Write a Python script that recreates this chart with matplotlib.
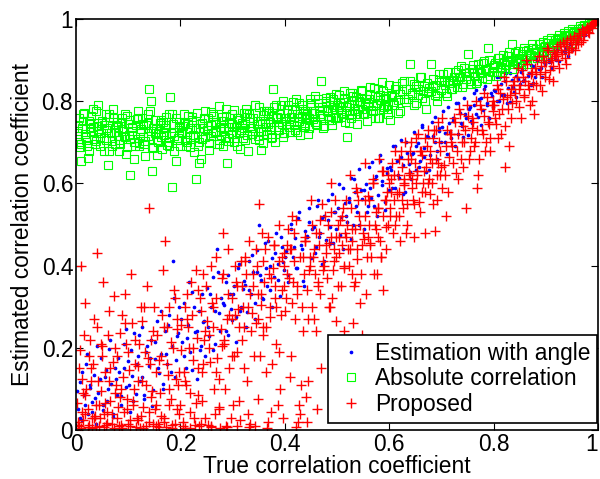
import matplotlib
matplotlib.use("Agg")
import matplotlib.pyplot as plt

# ---------------- data ----------------
# "Estimation with angle" (blue dots)
angle_x_a = [
 0.004,0.008,0.011,0.015,0.019,0.023,0.027,0.031,0.035,0.039,
 0.043,0.047,0.051,0.055,0.059,0.063,0.067,0.071,0.075,0.079,
 0.083,0.087,0.091,0.095,0.099,0.103,0.107,0.111,0.115,0.119,
 0.123,0.127,0.131,0.135,0.139,0.143,0.147,0.151,0.155,0.159,
 0.163,0.167,0.171,0.175,0.179,0.183,0.186,0.190,0.194,0.198,
 0.203,0.207,0.211,0.215,0.219,0.223,0.227,0.231,0.235,0.239,
 0.243,0.247,0.251,0.255,0.259,0.263,0.267,0.270,0.274,0.278,
 0.283,0.287,0.291,0.295,0.299,0.303,0.307,0.311,0.315,0.319,
 0.323,0.327,0.331,0.335,0.339,0.343,0.347,0.350,0.354,0.358,
 0.363,0.367,0.371,0.375,0.379,0.383,0.387,0.391,0.395,0.399,
 0.403,0.407,0.411,0.415,0.419,0.423,0.427,0.431,0.435,0.439,
 0.443,0.447,0.451,0.455,0.459,0.463,0.467,0.471,0.475,0.479,
 0.483,0.487,0.491,0.495,0.499,0.503,0.507,0.511,0.515,0.519,
 0.523,0.527,0.531,0.535,0.539,0.543,0.547,0.551,0.555,0.559,
 0.563,0.567,0.571,0.575,0.579,0.583,0.587,0.591,0.595,0.599,
 0.603,0.607,0.611,0.615,0.619,0.623,0.627,0.631,0.635,0.639,
 0.643,0.647,0.651,0.655,0.659,0.663,0.667,0.671,0.675,0.679,
 0.683,0.687,0.691,0.695,0.699,0.703,0.707,0.711,0.715,0.719,
 0.723,0.727,0.731,0.735,0.739,0.743,0.747,0.751,0.755,0.759,
 0.763,0.767,0.771,0.775,0.779,0.783,0.787,0.791,0.795,0.799,
 0.803,0.807,0.811,0.815,0.819,0.823,0.827,0.831,0.835,0.839,
 0.843,0.847,0.851,0.855,0.859,0.863,0.867,0.871,0.875,0.879,
 0.883,0.887,0.891,0.895,0.899,0.903,0.907,0.911,0.915,0.919,
 0.923,0.927,0.931,0.935,0.939,0.943,0.947,0.951,0.955,0.959,
 0.963,0.967,0.971,0.975,0.979,0.983,0.987,0.991,0.995,0.999,
]
angle_y_a = [
 0.052,0.118,0.025,0.085,0.160,0.040,0.102,0.068,0.135,0.015,
 0.090,0.175,0.048,0.128,0.070,0.198,0.112,0.032,0.150,0.085,
 0.140,0.062,0.210,0.105,0.168,0.045,0.132,0.235,0.088,0.180,
 0.120,0.250,0.075,0.190,0.155,0.220,0.098,0.172,0.265,0.138,
 0.185,0.112,0.240,0.160,0.280,0.205,0.410,0.130,0.228,0.300,
 0.215,0.310,0.150,0.255,0.190,0.335,0.238,0.125,0.290,0.205,
 0.262,0.180,0.345,0.228,0.300,0.372,0.210,0.440,0.285,0.320,
 0.305,0.240,0.378,0.332,0.268,0.350,0.215,0.395,0.290,0.342,
 0.352,0.288,0.410,0.330,0.385,0.270,0.438,0.500,0.365,0.318,
 0.395,0.460,0.340,0.418,0.372,0.480,0.405,0.325,0.445,0.390,
 0.435,0.378,0.502,0.420,0.468,0.395,0.530,0.450,0.362,0.485,
 0.472,0.540,0.418,0.495,0.445,0.560,0.480,0.405,0.520,0.462,
 0.512,0.455,0.575,0.530,0.488,0.598,0.518,0.440,0.552,0.505,
 0.555,0.612,0.498,0.578,0.530,0.635,0.562,0.490,0.598,0.545,
 0.590,0.652,0.545,0.618,0.572,0.668,0.605,0.535,0.638,0.585,
 0.632,0.690,0.588,0.655,0.612,0.705,0.645,0.580,0.675,0.628,
 0.672,0.725,0.632,0.698,0.655,0.742,0.685,0.628,0.712,0.668,
 0.715,0.762,0.678,0.735,0.700,0.775,0.722,0.672,0.748,0.710,
 0.752,0.795,0.720,0.772,0.740,0.808,0.760,0.718,0.785,0.748,
 0.790,0.828,0.762,0.808,0.778,0.838,0.795,0.758,0.820,0.785,
 0.826,0.858,0.800,0.842,0.815,0.868,0.832,0.798,0.852,0.822,
 0.862,0.890,0.842,0.876,0.852,0.898,0.868,0.840,0.885,0.860,
 0.898,0.920,0.882,0.910,0.890,0.928,0.902,0.880,0.918,0.900,
 0.935,0.952,0.922,0.945,0.930,0.958,0.940,0.925,0.955,0.942,
 0.968,0.978,0.962,0.980,0.972,0.986,0.979,0.988,0.994,0.998,
]
angle_x_b = [
 0.002,0.007,0.012,0.017,0.021,0.026,0.031,0.036,0.041,0.046,
 0.052,0.057,0.062,0.066,0.071,0.076,0.081,0.086,0.091,0.096,
 0.101,0.106,0.110,0.116,0.121,0.126,0.131,0.136,0.141,0.146,
 0.152,0.157,0.162,0.166,0.172,0.176,0.182,0.187,0.192,0.196,
 0.201,0.206,0.212,0.217,0.222,0.226,0.232,0.237,0.242,0.246,
 0.252,0.257,0.262,0.266,0.272,0.276,0.282,0.287,0.292,0.296,
 0.301,0.306,0.312,0.317,0.322,0.326,0.332,0.337,0.342,0.346,
 0.352,0.357,0.362,0.366,0.372,0.376,0.382,0.387,0.392,0.396,
 0.401,0.406,0.412,0.417,0.422,0.426,0.432,0.437,0.442,0.446,
 0.452,0.457,0.462,0.466,0.472,0.476,0.482,0.487,0.492,0.496,
 0.501,0.506,0.512,0.517,0.522,0.526,0.532,0.537,0.542,0.546,
 0.552,0.557,0.562,0.566,0.572,0.576,0.582,0.587,0.592,0.596,
 0.601,0.606,0.612,0.617,0.622,0.626,0.632,0.637,0.642,0.646,
 0.652,0.657,0.662,0.666,0.672,0.676,0.682,0.687,0.692,0.696,
 0.701,0.706,0.712,0.717,0.722,0.726,0.732,0.737,0.742,0.746,
 0.752,0.757,0.762,0.766,0.772,0.776,0.782,0.787,0.792,0.796,
 0.801,0.806,0.812,0.817,0.822,0.826,0.832,0.837,0.842,0.846,
 0.852,0.857,0.862,0.866,0.872,0.876,0.882,0.887,0.892,0.896,
 0.901,0.906,0.912,0.917,0.922,0.926,0.932,0.937,0.942,0.946,
 0.952,0.957,0.962,0.966,0.972,0.976,0.982,0.987,0.992,0.996,
]
angle_y_b = [
 0.095,0.030,0.140,0.062,0.185,0.110,0.045,0.078,0.205,0.125,
 0.060,0.145,0.100,0.220,0.038,0.125,0.175,0.082,0.150,0.245,
 0.110,0.195,0.070,0.160,0.230,0.128,0.085,0.205,0.175,0.058,
 0.215,0.150,0.290,0.100,0.185,0.255,0.140,0.320,0.170,0.235,
 0.270,0.180,0.225,0.360,0.145,0.300,0.240,0.195,0.330,0.265,
 0.250,0.330,0.195,0.290,0.385,0.240,0.310,0.360,0.230,0.295,
 0.330,0.275,0.405,0.300,0.362,0.250,0.340,0.425,0.310,0.385,
 0.378,0.320,0.455,0.350,0.400,0.300,0.430,0.365,0.470,0.408,
 0.420,0.360,0.490,0.445,0.395,0.515,0.440,0.350,0.470,0.505,
 0.490,0.430,0.545,0.470,0.515,0.410,0.560,0.495,0.455,0.530,
 0.540,0.475,0.590,0.520,0.565,0.465,0.610,0.545,0.500,0.585,
 0.585,0.530,0.640,0.565,0.610,0.520,0.655,0.595,0.555,0.625,
 0.640,0.590,0.690,0.620,0.665,0.575,0.700,0.648,0.610,0.675,
 0.690,0.640,0.738,0.665,0.715,0.632,0.750,0.700,0.660,0.728,
 0.738,0.700,0.785,0.725,0.760,0.690,0.795,0.748,0.712,0.770,
 0.780,0.752,0.820,0.770,0.805,0.742,0.830,0.790,0.760,0.812,
 0.828,0.800,0.860,0.815,0.848,0.795,0.868,0.835,0.810,0.855,
 0.870,0.848,0.898,0.862,0.888,0.845,0.905,0.878,0.858,0.895,
 0.912,0.895,0.932,0.905,0.925,0.898,0.945,0.920,0.910,0.938,
 0.955,0.945,0.968,0.958,0.975,0.962,0.982,0.978,0.988,0.995,
]

# "Absolute correlation" (green squares)
abs_x_a = [
 0.003,0.006,0.010,0.013,0.017,0.021,0.025,0.029,0.034,0.038,
 0.042,0.045,0.049,0.053,0.057,0.061,0.064,0.068,0.071,0.076,
 0.081,0.084,0.088,0.092,0.095,0.099,0.103,0.108,0.112,0.117,
 0.121,0.125,0.129,0.133,0.137,0.140,0.144,0.146,0.151,0.156,
 0.161,0.165,0.169,0.173,0.177,0.180,0.183,0.187,0.192,0.197,
 0.202,0.206,0.210,0.214,0.218,0.222,0.226,0.230,0.235,0.238,
 0.242,0.246,0.250,0.254,0.258,0.262,0.266,0.270,0.274,0.278,
 0.282,0.286,0.290,0.294,0.298,0.302,0.306,0.310,0.314,0.318,
 0.322,0.326,0.330,0.334,0.338,0.342,0.346,0.350,0.354,0.358,
 0.362,0.366,0.370,0.374,0.378,0.381,0.385,0.389,0.393,0.397,
 0.402,0.406,0.410,0.414,0.418,0.422,0.426,0.430,0.434,0.438,
 0.442,0.446,0.450,0.454,0.458,0.462,0.466,0.470,0.474,0.478,
 0.482,0.486,0.490,0.494,0.498,0.502,0.506,0.510,0.514,0.519,
 0.522,0.526,0.530,0.534,0.538,0.542,0.546,0.550,0.554,0.558,
 0.562,0.566,0.570,0.574,0.578,0.582,0.586,0.590,0.594,0.598,
 0.601,0.605,0.609,0.613,0.617,0.621,0.625,0.629,0.633,0.640,
 0.643,0.647,0.651,0.655,0.659,0.663,0.667,0.671,0.675,0.680,
 0.683,0.687,0.691,0.695,0.699,0.703,0.707,0.711,0.715,0.719,
 0.722,0.726,0.730,0.734,0.738,0.742,0.746,0.750,0.754,0.758,
 0.762,0.766,0.770,0.774,0.778,0.782,0.786,0.790,0.794,0.798,
 0.802,0.806,0.810,0.814,0.818,0.822,0.826,0.830,0.835,0.838,
 0.842,0.846,0.850,0.854,0.858,0.862,0.866,0.870,0.874,0.878,
 0.882,0.886,0.890,0.894,0.898,0.902,0.906,0.910,0.914,0.918,
 0.922,0.926,0.930,0.934,0.938,0.942,0.946,0.950,0.954,0.958,
 0.962,0.966,0.970,0.974,0.978,0.982,0.986,0.990,0.994,0.998,
]
abs_y_a = [
 0.742,0.700,0.655,0.768,0.721,0.690,0.752,0.735,0.708,0.775,
 0.790,0.712,0.746,0.678,0.730,0.645,0.762,0.703,0.781,0.725,
 0.738,0.695,0.760,0.716,0.672,0.745,0.620,0.728,0.700,0.756,
 0.690,0.733,0.712,0.667,0.748,0.830,0.800,0.630,0.722,0.705,
 0.741,0.683,0.726,0.762,0.700,0.810,0.592,0.715,0.655,0.734,
 0.725,0.768,0.690,0.745,0.712,0.755,0.676,0.610,0.650,0.736,
 0.708,0.760,0.731,0.682,0.774,0.722,0.745,0.695,0.788,0.717,
 0.752,0.714,0.650,0.738,0.770,0.700,0.726,0.759,0.684,0.743,
 0.735,0.780,0.680,0.758,0.720,0.792,0.744,0.705,0.681,0.766,
 0.748,0.720,0.775,0.738,0.830,0.700,0.762,0.731,0.790,0.712,
 0.752,0.790,0.725,0.770,0.741,0.806,0.760,0.718,0.782,0.748,
 0.770,0.734,0.795,0.757,0.812,0.742,0.778,0.850,0.760,0.800,
 0.765,0.800,0.742,0.785,0.817,0.758,0.795,0.772,0.826,0.712,
 0.790,0.760,0.812,0.775,0.745,0.800,0.828,0.768,0.793,0.752,
 0.805,0.778,0.832,0.790,0.760,0.815,0.846,0.785,0.808,0.770,
 0.755,0.812,0.790,0.838,0.802,0.775,0.825,0.850,0.797,0.890,
 0.815,0.842,0.795,0.830,0.858,0.808,0.836,0.780,0.822,0.890,
 0.838,0.815,0.800,0.852,0.827,0.866,0.840,0.812,0.848,0.830,
 0.852,0.872,0.835,0.860,0.885,0.842,0.868,0.915,0.850,0.878,
 0.868,0.845,0.890,0.872,0.856,0.898,0.876,0.930,0.862,0.884,
 0.892,0.870,0.905,0.884,0.912,0.878,0.898,0.920,0.940,0.890,
 0.900,0.922,0.895,0.915,0.930,0.905,0.925,0.912,0.938,0.918,
 0.928,0.940,0.922,0.945,0.935,0.950,0.932,0.955,0.942,0.948,
 0.952,0.962,0.948,0.966,0.958,0.970,0.962,0.975,0.968,0.972,
 0.975,0.982,0.978,0.986,0.984,0.990,0.989,0.994,0.996,0.999,
]
abs_x_b = [
 0.001,0.005,0.008,0.012,0.015,0.019,0.022,0.026,0.029,0.033,0.036,0.040,
 0.043,0.046,0.050,0.053,0.057,0.060,0.064,0.067,0.070,0.074,0.077,0.080,
 0.083,0.087,0.090,0.094,0.097,0.101,0.104,0.108,0.111,0.115,0.118,0.120,
 0.123,0.127,0.130,0.134,0.137,0.141,0.145,0.148,0.152,0.155,0.158,0.160,
 0.163,0.167,0.170,0.174,0.178,0.181,0.185,0.188,0.191,0.195,0.198,0.200,
 0.204,0.208,0.212,0.215,0.219,0.222,0.225,0.229,0.232,0.236,0.239,0.241,
 0.244,0.248,0.252,0.255,0.259,0.263,0.266,0.269,0.273,0.276,0.279,0.281,
 0.284,0.288,0.292,0.296,0.299,0.303,0.306,0.309,0.313,0.316,0.319,0.321,
 0.324,0.328,0.332,0.336,0.339,0.343,0.347,0.351,0.355,0.357,0.359,0.361,
 0.364,0.368,0.372,0.376,0.379,0.383,0.387,0.390,0.394,0.396,0.398,0.400,
 0.404,0.408,0.412,0.416,0.420,0.424,0.428,0.432,0.436,0.439,0.441,0.444,
 0.447,0.451,0.455,0.459,0.463,0.467,0.471,0.475,0.479,0.481,0.484,0.487,
 0.490,0.493,0.497,0.500,0.504,0.508,0.512,0.516,0.520,0.524,0.528,0.532,
 0.536,0.540,0.544,0.548,0.552,0.556,0.560,0.564,0.568,0.572,0.576,0.580,
 0.584,0.588,0.592,0.596,0.600,0.604,0.608,0.612,0.616,0.620,0.624,0.628,
 0.632,0.636,0.640,0.644,0.648,0.652,0.656,0.660,0.664,0.668,0.672,0.676,
 0.680,0.684,0.688,0.692,0.696,0.700,0.704,0.708,0.712,0.716,0.720,0.724,
 0.728,0.732,0.736,0.740,0.744,0.748,0.752,0.756,0.760,0.764,0.768,0.772,
 0.776,0.780,0.784,0.788,0.792,0.796,0.800,0.804,0.808,0.812,0.816,0.820,
 0.824,0.828,0.832,0.836,0.840,0.844,0.848,0.852,0.856,0.860,0.864,0.868,
 0.872,0.876,0.880,0.884,0.888,0.892,0.896,0.900,0.904,0.908,0.912,0.916,
 0.920,0.924,0.928,0.932,0.936,0.940,0.944,0.948,0.952,0.956,0.960,0.964,
]
abs_y_b = [
 0.715,0.760,0.688,0.735,0.772,0.705,0.662,0.748,0.726,0.780,0.695,0.740,
 0.728,0.690,0.752,0.710,0.770,0.735,0.680,0.722,0.758,0.697,0.742,0.715,
 0.705,0.748,0.727,0.770,0.688,0.718,0.755,0.736,0.660,0.742,0.776,0.698,
 0.728,0.760,0.695,0.742,0.715,0.776,0.688,0.735,0.755,0.670,0.720,0.746,
 0.712,0.750,0.735,0.694,0.768,0.722,0.745,0.680,0.758,0.710,0.738,0.690,
 0.740,0.705,0.726,0.765,0.688,0.750,0.718,0.734,0.772,0.700,0.660,0.748,
 0.735,0.712,0.758,0.698,0.742,0.770,0.725,0.750,0.705,0.738,0.762,0.690,
 0.728,0.765,0.704,0.746,0.720,0.778,0.738,0.690,0.755,0.730,0.710,0.772,
 0.745,0.718,0.770,0.735,0.760,0.708,0.752,0.785,0.728,0.745,0.698,0.775,
 0.738,0.772,0.750,0.712,0.785,0.758,0.730,0.768,0.745,0.800,0.722,0.760,
 0.778,0.745,0.762,0.798,0.730,0.770,0.752,0.790,0.738,0.775,0.760,0.720,
 0.758,0.790,0.772,0.745,0.805,0.768,0.785,0.740,0.795,0.775,0.755,0.810,
 0.778,0.805,0.760,0.790,0.815,0.772,0.798,0.750,0.785,0.820,0.768,0.802,
 0.810,0.782,0.798,0.825,0.770,0.805,0.788,0.835,0.776,0.812,0.795,0.760,
 0.792,0.825,0.808,0.780,0.840,0.815,0.798,0.830,0.772,0.818,0.845,0.805,
 0.830,0.805,0.848,0.820,0.792,0.838,0.815,0.860,0.826,0.800,0.845,0.832,
 0.825,0.855,0.840,0.812,0.865,0.832,0.850,0.820,0.872,0.845,0.830,0.858,
 0.848,0.875,0.860,0.835,0.882,0.855,0.870,0.842,0.888,0.862,0.850,0.878,
 0.868,0.892,0.878,0.855,0.900,0.872,0.888,0.862,0.905,0.880,0.870,0.895,
 0.888,0.910,0.895,0.878,0.918,0.892,0.905,0.885,0.922,0.900,0.890,0.915,
 0.912,0.930,0.920,0.905,0.938,0.918,0.932,0.910,0.942,0.925,0.915,0.940,
 0.940,0.955,0.945,0.935,0.960,0.948,0.958,0.942,0.966,0.955,0.962,0.970,
]
abs_x_c = [
 0.004,0.009,0.014,0.019,0.024,0.028,0.033,0.038,0.043,0.048,
 0.053,0.058,0.063,0.068,0.073,0.078,0.083,0.088,0.093,0.098,
 0.103,0.108,0.113,0.118,0.123,0.128,0.133,0.138,0.143,0.148,
 0.153,0.158,0.163,0.168,0.173,0.178,0.183,0.188,0.193,0.198,
 0.203,0.208,0.213,0.218,0.223,0.228,0.233,0.238,0.243,0.248,
 0.253,0.258,0.263,0.268,0.273,0.278,0.283,0.288,0.293,0.298,
 0.303,0.308,0.313,0.318,0.323,0.328,0.333,0.338,0.343,0.348,
 0.353,0.358,0.363,0.368,0.373,0.378,0.383,0.388,0.393,0.398,
 0.403,0.408,0.413,0.418,0.423,0.428,0.433,0.438,0.443,0.448,
 0.453,0.458,0.463,0.468,0.473,0.478,0.483,0.488,0.493,0.498,
 0.503,0.508,0.513,0.518,0.523,0.528,0.533,0.538,0.543,0.548,
 0.553,0.558,0.563,0.568,0.573,0.578,0.583,0.588,0.593,0.598,
]
abs_y_c = [
 0.728,0.695,0.752,0.712,0.680,0.765,0.738,0.702,0.748,0.722,
 0.742,0.705,0.770,0.690,0.725,0.750,0.678,0.732,0.712,0.765,
 0.708,0.738,0.690,0.760,0.722,0.745,0.702,0.770,0.728,0.685,
 0.732,0.700,0.755,0.718,0.742,0.690,0.768,0.726,0.705,0.750,
 0.722,0.748,0.700,0.735,0.762,0.712,0.690,0.745,0.728,0.775,
 0.740,0.715,0.765,0.728,0.695,0.752,0.735,0.780,0.710,0.745,
 0.738,0.760,0.722,0.748,0.705,0.772,0.740,0.728,0.790,0.715,
 0.752,0.728,0.775,0.745,0.710,0.765,0.790,0.738,0.758,0.722,
 0.760,0.738,0.782,0.752,0.725,0.795,0.765,0.742,0.775,0.805,
 0.772,0.750,0.795,0.765,0.735,0.808,0.778,0.755,0.790,0.762,
 0.785,0.762,0.808,0.775,0.748,0.820,0.792,0.770,0.800,0.780,
 0.795,0.772,0.818,0.788,0.760,0.830,0.802,0.782,0.812,0.790,
]

# "Proposed" (red plus signs)
prop_x_a = [
 0.003,0.006,0.009,0.012,0.015,0.018,0.022,0.025,0.028,0.031,0.035,0.038,
 0.041,0.044,0.047,0.050,0.053,0.056,0.060,0.063,0.066,0.070,0.073,0.077,
 0.081,0.084,0.087,0.090,0.094,0.097,0.100,0.104,0.107,0.111,0.114,0.118,
 0.121,0.124,0.127,0.130,0.134,0.137,0.140,0.144,0.147,0.151,0.154,0.158,
 0.161,0.164,0.168,0.171,0.174,0.178,0.181,0.184,0.188,0.191,0.194,0.198,
 0.201,0.204,0.208,0.211,0.214,0.218,0.221,0.224,0.228,0.231,0.234,0.238,
 0.241,0.244,0.248,0.251,0.254,0.258,0.261,0.264,0.268,0.271,0.274,0.278,
 0.281,0.284,0.288,0.291,0.294,0.298,0.301,0.304,0.308,0.311,0.314,0.318,
 0.321,0.324,0.328,0.331,0.334,0.338,0.341,0.344,0.348,0.351,0.354,0.358,
 0.361,0.364,0.368,0.371,0.374,0.378,0.381,0.384,0.388,0.391,0.394,0.398,
 0.401,0.404,0.408,0.411,0.414,0.418,0.421,0.424,0.428,0.431,0.435,0.438,
 0.441,0.443,0.446,0.450,0.453,0.456,0.459,0.463,0.466,0.470,0.473,0.477,
 0.481,0.484,0.488,0.491,0.494,0.498,0.501,0.504,0.508,0.511,0.514,0.518,
 0.521,0.524,0.528,0.531,0.534,0.538,0.541,0.544,0.548,0.551,0.554,0.558,
 0.561,0.564,0.568,0.571,0.574,0.578,0.581,0.584,0.588,0.591,0.594,0.598,
 0.601,0.604,0.608,0.611,0.614,0.618,0.621,0.624,0.628,0.631,0.634,0.638,
 0.641,0.644,0.648,0.651,0.654,0.658,0.661,0.664,0.668,0.671,0.674,0.678,
 0.681,0.684,0.688,0.691,0.694,0.698,0.701,0.704,0.708,0.711,0.714,0.718,
 0.721,0.724,0.728,0.731,0.734,0.738,0.741,0.744,0.748,0.751,0.754,0.758,
 0.761,0.764,0.768,0.771,0.774,0.778,0.781,0.784,0.788,0.791,0.794,0.798,
 0.801,0.804,0.808,0.811,0.814,0.818,0.821,0.824,0.828,0.831,0.834,0.838,
 0.841,0.844,0.848,0.851,0.854,0.858,0.861,0.864,0.868,0.871,0.874,0.878,
 0.881,0.884,0.888,0.891,0.894,0.898,0.901,0.904,0.908,0.911,0.914,0.918,
 0.921,0.924,0.928,0.931,0.934,0.938,0.941,0.944,0.948,0.951,0.954,0.958,
 0.961,0.964,0.968,0.971,0.974,0.978,0.981,0.984,0.988,0.991,0.994,0.998,
]
prop_y_a = [
 0.012,0.150,0.400,0.045,0.230,0.085,0.008,0.180,0.120,0.030,0.270,0.060,
 0.430,0.010,0.095,0.205,0.040,0.140,0.018,0.290,0.070,0.165,0.005,0.110,
 0.055,0.235,0.012,0.130,0.330,0.075,0.190,0.025,0.260,0.100,0.008,0.155,
 0.210,0.035,0.120,0.300,0.010,0.175,0.540,0.080,0.240,0.050,0.140,0.015,
 0.090,0.280,0.020,0.460,0.160,0.060,0.215,0.005,0.340,0.125,0.245,0.040,
 0.195,0.010,0.300,0.110,0.250,0.045,0.360,0.170,0.012,0.225,0.085,0.320,
 0.140,0.380,0.030,0.265,0.200,0.008,0.310,0.100,0.420,0.175,0.055,0.245,
 0.480,0.220,0.010,0.330,0.150,0.270,0.060,0.400,0.190,0.295,0.025,0.350,
 0.250,0.420,0.120,0.007,0.330,0.285,0.180,0.440,0.075,0.550,0.305,0.230,
 0.360,0.140,0.470,0.275,0.045,0.395,0.320,0.210,0.500,0.100,0.340,0.430,
 0.290,0.450,0.370,0.180,0.520,0.410,0.007,0.330,0.060,0.110,0.240,0.470,
 0.080,0.020,0.390,0.560,0.300,0.440,0.240,0.350,0.480,0.150,0.410,0.520,
 0.370,0.455,0.600,0.320,0.410,0.265,0.500,0.430,0.350,0.540,0.395,0.470,
 0.440,0.620,0.380,0.260,0.490,0.415,0.560,0.310,0.230,0.465,0.650,0.420,
 0.500,0.455,0.600,0.380,0.530,0.470,0.660,0.420,0.340,0.560,0.495,0.620,
 0.540,0.610,0.480,0.680,0.575,0.520,0.460,0.640,0.595,0.700,0.550,0.625,
 0.660,0.590,0.470,0.710,0.620,0.555,0.680,0.600,0.480,0.640,0.730,0.575,
 0.650,0.710,0.485,0.620,0.750,0.680,0.590,0.645,0.520,0.730,0.665,0.700,
 0.690,0.760,0.625,0.720,0.780,0.660,0.740,0.700,0.540,0.765,0.680,0.735,
 0.750,0.700,0.590,0.620,0.790,0.730,0.765,0.680,0.810,0.745,0.710,0.775,
 0.790,0.745,0.830,0.770,0.720,0.805,0.640,0.850,0.780,0.815,0.760,0.840,
 0.820,0.860,0.785,0.840,0.875,0.810,0.850,0.890,0.830,0.865,0.800,0.770,
 0.870,0.900,0.840,0.885,0.910,0.860,0.895,0.925,0.875,0.905,0.850,0.915,
 0.920,0.900,0.940,0.915,0.935,0.890,0.950,0.925,0.945,0.930,0.958,0.940,
 0.950,0.965,0.945,0.970,0.960,0.978,0.968,0.982,0.985,0.990,0.993,0.998,
]
prop_x_b = [
 0.002,0.005,0.008,0.011,0.014,0.017,0.020,0.023,0.027,0.030,0.033,0.037,
 0.040,0.043,0.046,0.049,0.052,0.055,0.058,0.062,0.065,0.068,0.072,0.075,
 0.079,0.082,0.086,0.089,0.092,0.096,0.099,0.102,0.106,0.109,0.113,0.116,
 0.119,0.122,0.126,0.129,0.132,0.136,0.139,0.142,0.146,0.149,0.153,0.156,
 0.159,0.162,0.166,0.169,0.172,0.176,0.179,0.182,0.186,0.189,0.193,0.196,
 0.199,0.202,0.206,0.209,0.212,0.216,0.219,0.222,0.226,0.229,0.233,0.236,
 0.239,0.242,0.246,0.249,0.252,0.256,0.259,0.262,0.266,0.269,0.273,0.276,
 0.279,0.282,0.286,0.289,0.292,0.296,0.299,0.302,0.306,0.309,0.313,0.316,
 0.319,0.322,0.326,0.329,0.332,0.336,0.339,0.342,0.346,0.349,0.353,0.356,
 0.359,0.362,0.366,0.369,0.372,0.376,0.379,0.382,0.386,0.389,0.393,0.396,
 0.399,0.402,0.406,0.409,0.412,0.416,0.419,0.422,0.426,0.429,0.433,0.436,
 0.439,0.442,0.445,0.448,0.452,0.455,0.458,0.462,0.465,0.468,0.472,0.475,
 0.479,0.482,0.486,0.489,0.492,0.496,0.499,0.502,0.506,0.509,0.513,0.516,
 0.519,0.522,0.526,0.529,0.532,0.536,0.539,0.542,0.546,0.549,0.553,0.556,
 0.559,0.562,0.566,0.569,0.572,0.576,0.579,0.582,0.586,0.589,0.593,0.596,
 0.599,0.602,0.606,0.609,0.612,0.616,0.619,0.622,0.626,0.629,0.633,0.636,
 0.639,0.642,0.646,0.649,0.652,0.656,0.659,0.662,0.666,0.669,0.673,0.676,
 0.679,0.682,0.686,0.689,0.692,0.696,0.699,0.702,0.706,0.709,0.713,0.716,
 0.719,0.722,0.726,0.729,0.732,0.736,0.739,0.742,0.746,0.749,0.753,0.756,
 0.759,0.762,0.766,0.769,0.772,0.776,0.779,0.782,0.786,0.789,0.793,0.796,
 0.799,0.802,0.806,0.809,0.812,0.816,0.819,0.822,0.826,0.829,0.833,0.836,
 0.839,0.842,0.846,0.849,0.852,0.856,0.859,0.862,0.866,0.869,0.873,0.876,
 0.879,0.882,0.886,0.889,0.892,0.896,0.899,0.902,0.906,0.909,0.913,0.916,
 0.919,0.922,0.926,0.929,0.932,0.936,0.939,0.942,0.946,0.949,0.953,0.956,
 0.959,0.962,0.966,0.969,0.972,0.976,0.979,0.982,0.986,0.989,0.993,0.996,
]
prop_y_b = [
 0.065,0.010,0.195,0.125,0.025,0.310,0.100,0.050,0.220,0.005,0.160,0.035,
 0.250,0.120,0.030,0.180,0.360,0.065,0.012,0.230,0.150,0.040,0.325,0.090,
 0.180,0.010,0.100,0.280,0.045,0.210,0.015,0.145,0.380,0.060,0.220,0.030,
 0.120,0.005,0.265,0.055,0.190,0.350,0.020,0.160,0.095,0.300,0.010,0.230,
 0.170,0.035,0.390,0.250,0.008,0.135,0.300,0.075,0.200,0.015,0.270,0.110,
 0.060,0.255,0.140,0.005,0.330,0.200,0.090,0.280,0.030,0.390,0.150,0.010,
 0.290,0.070,0.220,0.350,0.012,0.165,0.400,0.250,0.040,0.320,0.125,0.005,
 0.205,0.380,0.100,0.270,0.440,0.030,0.320,0.180,0.360,0.010,0.250,0.410,
 0.300,0.150,0.380,0.040,0.460,0.240,0.350,0.010,0.400,0.270,0.180,0.480,
 0.250,0.440,0.005,0.380,0.300,0.160,0.450,0.350,0.060,0.410,0.280,0.030,
 0.400,0.320,0.490,0.130,0.440,0.360,0.270,0.510,0.020,0.420,0.300,0.380,
 0.460,0.340,0.120,0.420,0.500,0.270,0.380,0.050,0.450,0.330,0.550,0.400,
 0.430,0.500,0.300,0.470,0.390,0.560,0.420,0.350,0.510,0.450,0.240,0.480,
 0.500,0.400,0.540,0.460,0.350,0.590,0.440,0.520,0.380,0.480,0.560,0.330,
 0.470,0.560,0.420,0.610,0.500,0.380,0.540,0.460,0.630,0.520,0.440,0.580,
 0.600,0.520,0.650,0.560,0.500,0.620,0.580,0.680,0.540,0.610,0.480,0.660,
 0.620,0.700,0.560,0.650,0.600,0.720,0.530,0.670,0.630,0.580,0.690,0.610,
 0.680,0.600,0.730,0.660,0.560,0.700,0.640,0.760,0.620,0.690,0.580,0.720,
 0.720,0.650,0.750,0.680,0.610,0.770,0.700,0.640,0.730,0.790,0.660,0.710,
 0.760,0.690,0.800,0.730,0.660,0.780,0.720,0.820,0.700,0.750,0.680,0.790,
 0.800,0.760,0.840,0.710,0.820,0.780,0.860,0.740,0.810,0.690,0.830,0.795,
 0.850,0.800,0.880,0.830,0.760,0.860,0.815,0.900,0.840,0.790,0.870,0.845,
 0.880,0.840,0.910,0.865,0.825,0.895,0.870,0.930,0.855,0.900,0.885,0.920,
 0.910,0.935,0.880,0.925,0.945,0.905,0.940,0.920,0.955,0.930,0.948,0.925,
 0.955,0.940,0.962,0.975,0.950,0.970,0.980,0.965,0.985,0.978,0.990,0.995,
]
prop_x_c = [
 0.004,0.009,0.013,0.018,0.024,0.029,0.034,0.039,0.044,0.048,
 0.054,0.059,0.063,0.068,0.074,0.079,0.084,0.089,0.094,0.098,
 0.104,0.109,0.113,0.118,0.124,0.129,0.134,0.139,0.144,0.148,
 0.154,0.159,0.163,0.168,0.174,0.179,0.184,0.189,0.194,0.198,
 0.204,0.209,0.213,0.218,0.224,0.229,0.234,0.239,0.244,0.248,
 0.254,0.259,0.263,0.268,0.274,0.279,0.284,0.289,0.294,0.298,
 0.304,0.309,0.313,0.318,0.324,0.329,0.334,0.339,0.344,0.348,
 0.354,0.359,0.363,0.368,0.374,0.379,0.384,0.389,0.394,0.398,
 0.404,0.409,0.413,0.418,0.424,0.429,0.434,0.439,0.444,0.448,
 0.454,0.459,0.463,0.468,0.474,0.479,0.484,0.489,0.494,0.498,
 0.504,0.509,0.513,0.518,0.524,0.529,0.534,0.539,0.544,0.548,
 0.554,0.559,0.563,0.568,0.574,0.579,0.584,0.589,0.594,0.598,
 0.604,0.609,0.613,0.618,0.624,0.629,0.634,0.639,0.644,0.648,
 0.654,0.659,0.663,0.668,0.674,0.679,0.684,0.689,0.694,0.698,
]
prop_y_c = [
 0.020,0.005,0.090,0.040,0.012,0.150,0.030,0.008,0.060,0.210,
 0.008,0.045,0.120,0.015,0.200,0.030,0.080,0.005,0.260,0.050,
 0.010,0.070,0.160,0.025,0.300,0.005,0.110,0.045,0.220,0.015,
 0.060,0.008,0.180,0.030,0.250,0.100,0.012,0.320,0.050,0.140,
 0.020,0.120,0.270,0.006,0.200,0.065,0.340,0.015,0.160,0.240,
 0.230,0.010,0.300,0.140,0.050,0.370,0.210,0.008,0.280,0.180,
 0.280,0.350,0.070,0.220,0.410,0.300,0.015,0.380,0.260,0.330,
 0.330,0.410,0.250,0.020,0.370,0.450,0.300,0.190,0.420,0.350,
 0.380,0.440,0.310,0.480,0.350,0.040,0.420,0.460,0.270,0.400,
 0.420,0.480,0.360,0.510,0.390,0.450,0.300,0.530,0.440,0.470,
 0.470,0.520,0.400,0.560,0.440,0.490,0.360,0.580,0.500,0.450,
 0.520,0.570,0.450,0.600,0.490,0.540,0.420,0.630,0.560,0.500,
 0.580,0.620,0.520,0.660,0.560,0.600,0.500,0.680,0.610,0.550,
 0.630,0.680,0.580,0.710,0.600,0.660,0.550,0.730,0.650,0.620,
]

angle_x = angle_x_a + angle_x_b
angle_y = angle_y_a + angle_y_b
abs_x = abs_x_a + abs_x_b + abs_x_c
abs_y = abs_y_a + abs_y_b + abs_y_c
prop_x = prop_x_a + prop_x_b + prop_x_c
prop_y = prop_y_a + prop_y_b + prop_y_c

series_labels = ["Estimation with angle", "Absolute correlation", "Proposed"]
ticks = [0, 0.2, 0.4, 0.6, 0.8, 1]
tick_labels = ["0", "0.2", "0.4", "0.6", "0.8", "1"]

# ---------------- figure ----------------
plt.rcParams['font.family'] = ['Liberation Sans', 'DejaVu Sans']
FS = 16.4
fig = plt.figure(figsize=(6.0, 4.79), dpi=100)
ax = fig.add_axes([0.1267, 0.1023, 0.87, 0.858])

ax.plot(angle_x, angle_y, linestyle='none', marker='.', markersize=3.3,
        color='#0000ff', label=series_labels[0])
ax.plot(abs_x, abs_y, linestyle='none', marker='s', markersize=5.4,
        markerfacecolor='none', markeredgecolor='#00ff00', markeredgewidth=0.8,
        label=series_labels[1])
ax.plot(prop_x, prop_y, linestyle='none', marker='+', markersize=6.8,
        color='#ff0000', markeredgewidth=1.0, label=series_labels[2])

ax.set_xlim(0, 1)
ax.set_ylim(0, 1)
ax.set_xticks(ticks)
ax.set_xticklabels(tick_labels)
ax.set_yticks(ticks)
ax.set_yticklabels(tick_labels)
ax.tick_params(direction='in', top=True, right=True, length=5, width=0.8,
               labelsize=FS, pad=2)
ax.get_xticklabels()[-1].set_horizontalalignment('right')
for s in ax.spines.values():
    s.set_linewidth(1.2)

ax.set_xlabel("True correlation coefficient", fontsize=FS, labelpad=-0.5)
ax.set_ylabel("Estimated correlation coefficient", fontsize=FS, labelpad=5.5)

leg = ax.legend(loc='lower right', bbox_to_anchor=(0.998, 0.017),
                borderaxespad=0, fontsize=FS, fancybox=False, framealpha=1,
                edgecolor='black', handlelength=1.4, handletextpad=0.35,
                borderpad=0.3, labelspacing=0.12, markerscale=1.0)
leg.get_frame().set_linewidth(1.2)

fig.savefig("out.png", dpi=100)
